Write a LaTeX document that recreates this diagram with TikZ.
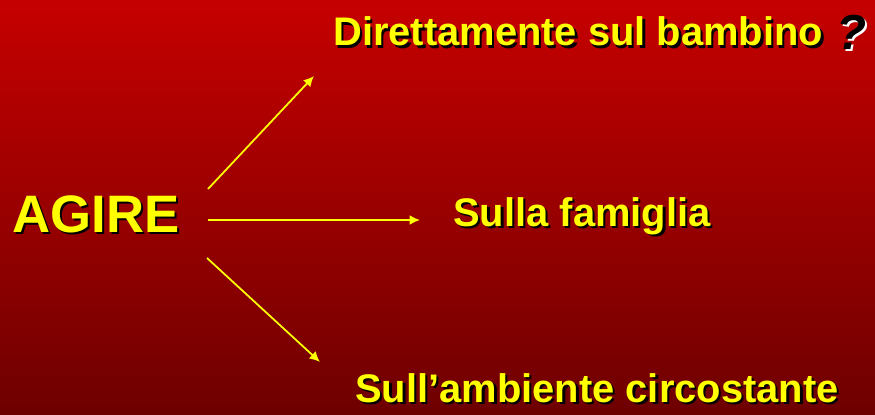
\documentclass[tikz,border=0pt]{standalone}
\usepackage{fontspec}
\setmainfont{Liberation Sans}
\usetikzlibrary{calc,arrows.meta}

\definecolor{rossoalto}{RGB}{198,0,0}
\definecolor{rossobasso}{RGB}{110,0,0}
\definecolor{giallo}{RGB}{255,255,0}

\tikzset{
  voce/.style={inner sep=0pt, anchor=base west, font=\bfseries\fontsize{22.7}{26}\selectfont},
  freccia/.style={giallo, line width=1pt, -{Latex[length=2.1mm,width=2mm]}}
}

% testo giallo con ombra nera: nome, posizione, stile, testo
\newcommand{\ombreggia}[4]{%
  \node [#3, text=black] at ($(#2)+(0.045,-0.045)$) {#4};
  \node [#3, text=giallo] (#1) at (#2) {#4};}

\begin{document}
\begin{tikzpicture}
                \shade [top color=rossoalto, bottom color=rossobasso] (0,0) rectangle (17.5,8.28);
                \useasboundingbox (0,0) rectangle (17.5,8.28);

                \ombreggia{agire}{0.24,3.64}{voce, font=\bfseries\fontsize{30}{36}\selectfont}{AGIRE}
                \ombreggia{bambino}{6.66,7.36}{voce}{Direttamente sul bambino}
                \ombreggia{famiglia}{9.06,3.76}{voce}{Sulla famiglia}
                \ombreggia{ambiente}{7.10,0.24}{voce}{Sull’ambiente circostante}

                \node [voce, text=white, font=\bfseries\itshape\fontsize{28}{32}\selectfont] at (16.77,7.24) {?};
                \node [voce, text=black, font=\bfseries\itshape\fontsize{28}{32}\selectfont] (domanda) at (16.73,7.28) {?};

                \coordinate (p1) at (4.16,4.50);
                \coordinate (q1) at (6.28,6.76);
                \coordinate (p2) at (4.16,3.88);
                \coordinate (q2) at (8.40,3.88);
                \coordinate (p3) at (4.14,3.12);
                \coordinate (q3) at (6.40,1.04);

                \draw [freccia] (p1) -- (q1);
                \draw [freccia] (p2) -- (q2);
                \draw [freccia] (p3) -- (q3);
\end{tikzpicture}
\end{document}
